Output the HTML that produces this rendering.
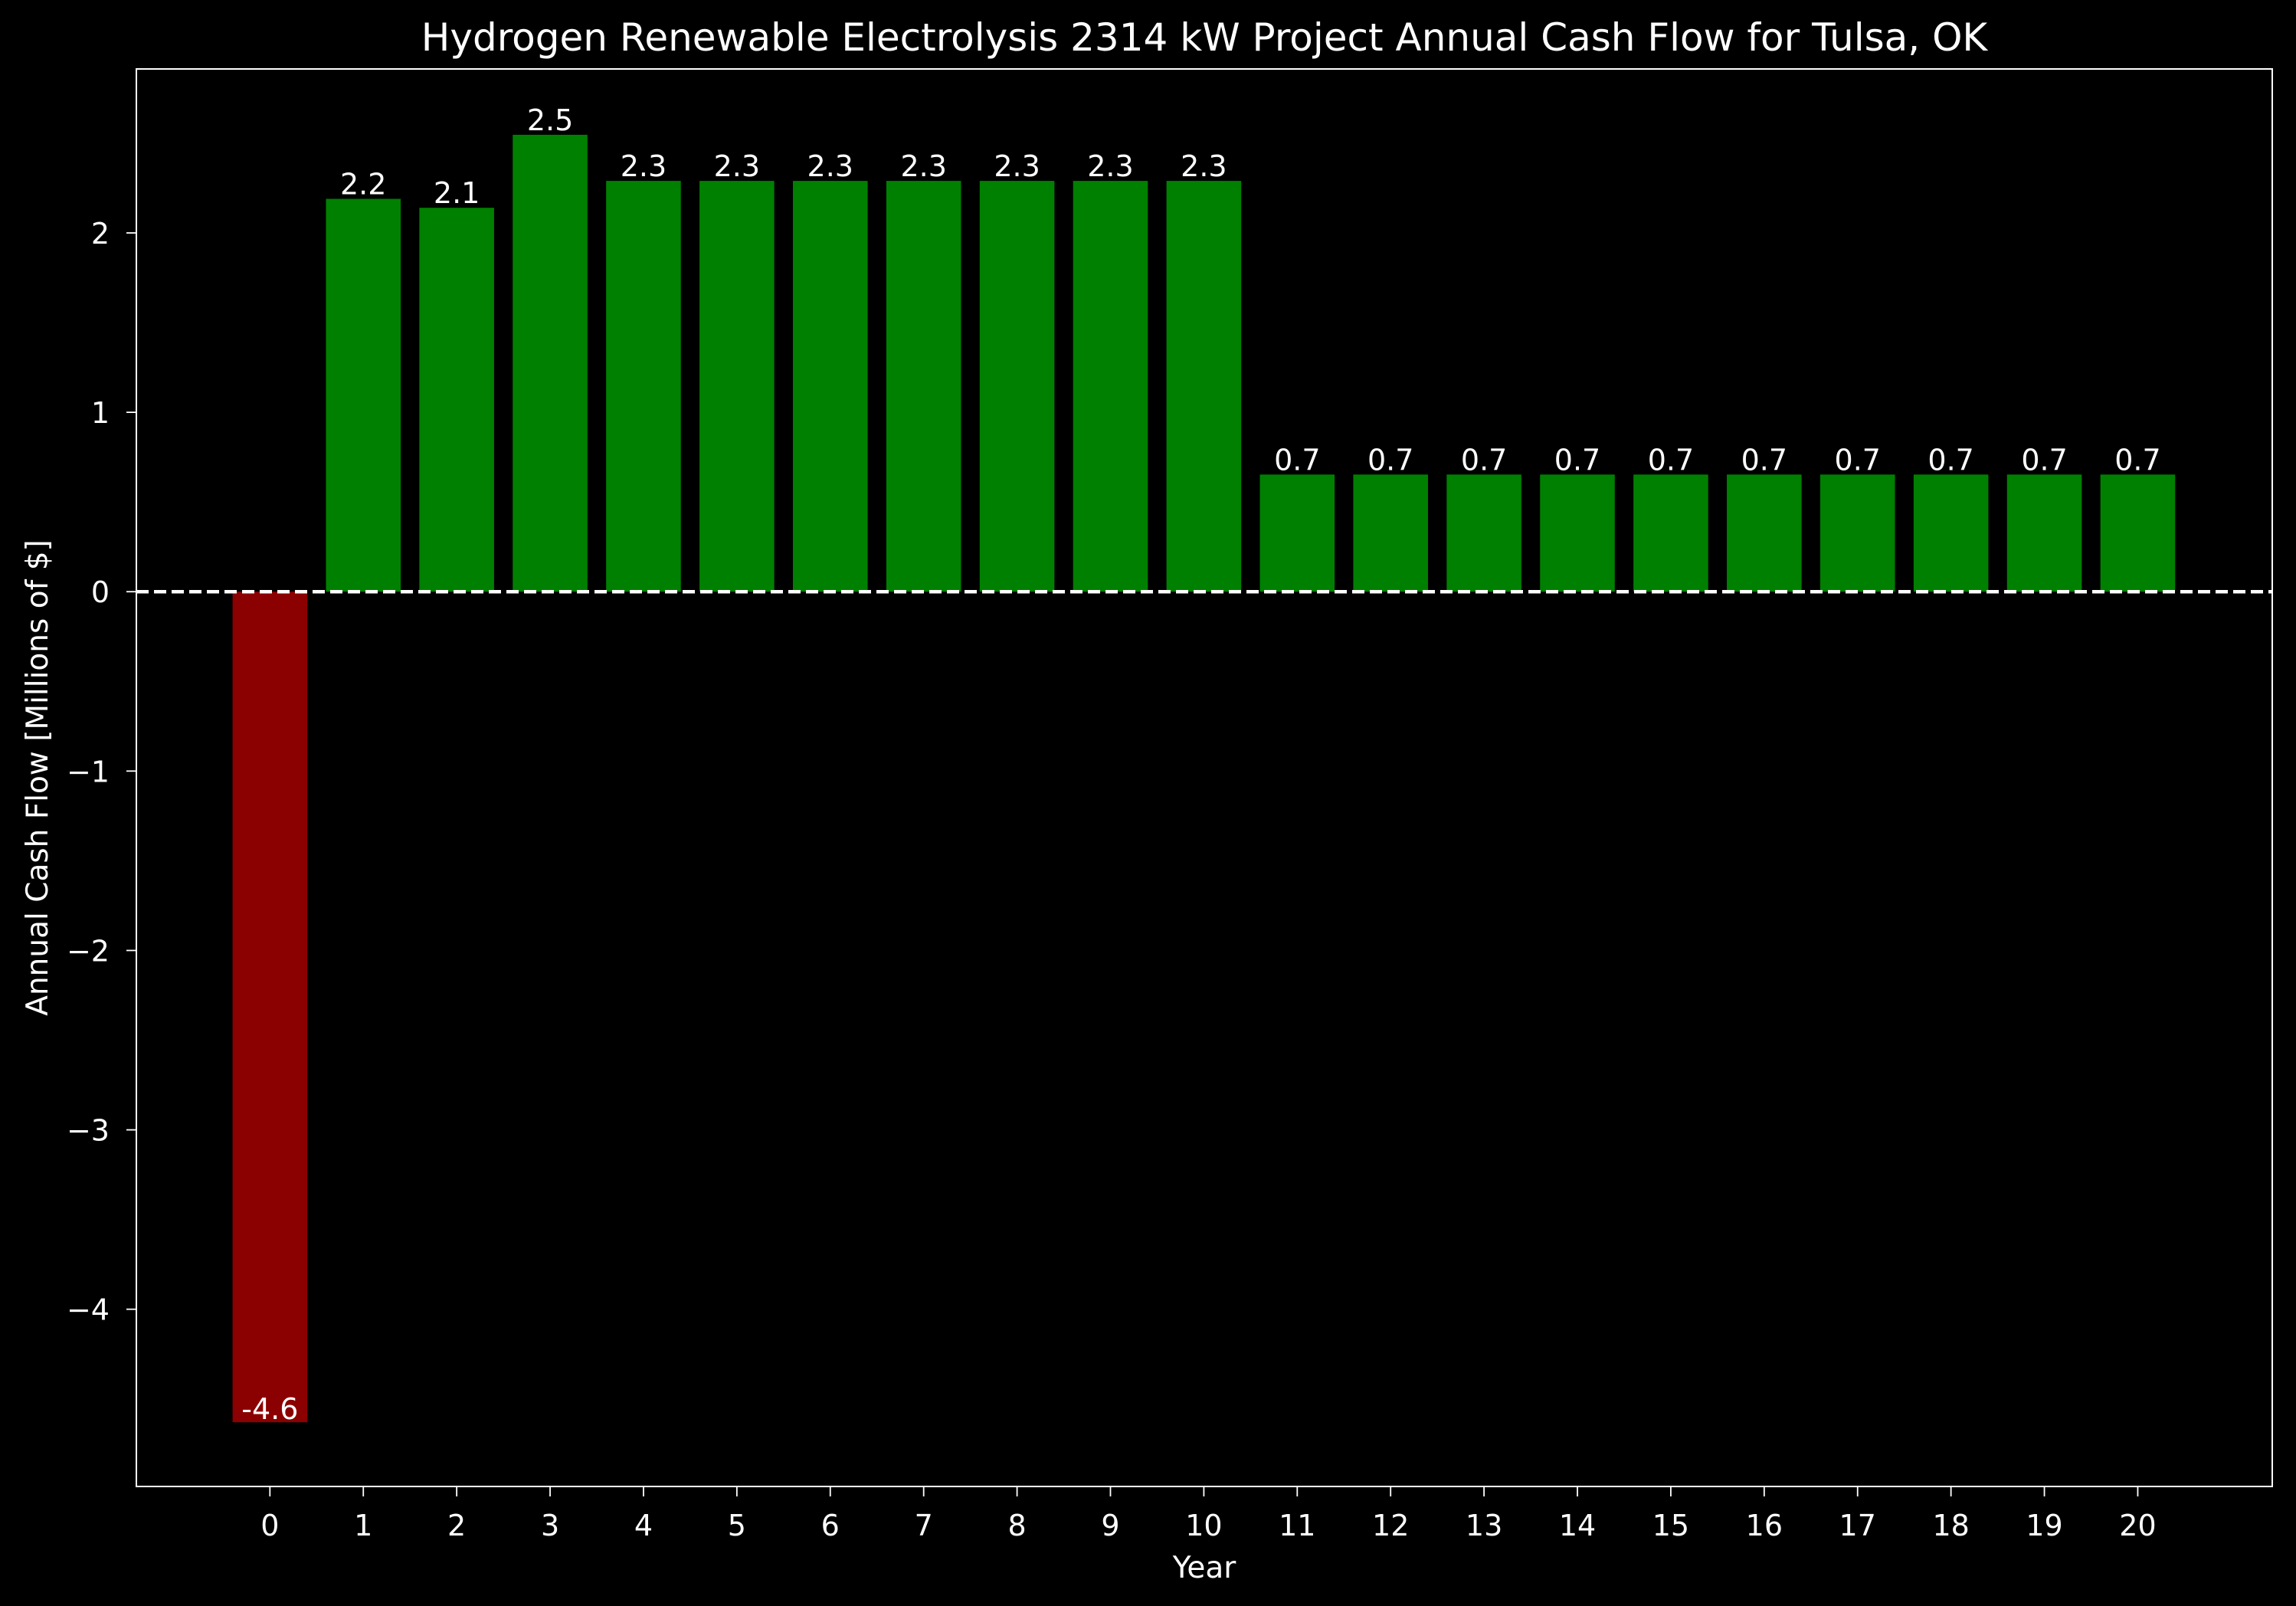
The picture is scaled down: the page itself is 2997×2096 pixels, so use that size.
<!DOCTYPE html>
<html><head><meta charset="utf-8">
<style>
html,body{margin:0;padding:0;background:#000;}
svg{display:block;}
text{font-family:"DejaVu Sans","Liberation Sans",sans-serif;fill:#fff;}
</style></head>
<body>
<svg id="chart" width="2997" height="2096" viewBox="0 0 2997 2096">
<rect x="0" y="0" width="2997" height="2096" fill="#000"/>
<text x="1572" y="66" font-size="50" text-anchor="middle">Hydrogen Renewable Electrolysis 2314 kW Project Annual Cash Flow for Tulsa, OK</text>
<text x="1572" y="2059" font-size="39" text-anchor="middle">Year</text>
<text x="0" y="0" font-size="39" text-anchor="middle" transform="translate(62,1015) rotate(-90)">Annual Cash Flow [Millions of $]</text>
<g id="bars"></g>
<g id="xticks"></g>
<g id="yticks"></g>
<g id="labels"></g>
</svg>
<script>
const years = [0,1,2,3,4,5,6,7,8,9,10,11,12,13,14,15,16,17,18,19,20];
const cashFlow = [-4.63,2.19,2.14,2.547,2.29,2.29,2.29,2.29,2.29,2.29,2.29,0.653,0.653,0.653,0.653,0.653,0.653,0.653,0.653,0.653,0.653];
const yTickValues = [-4,-3,-2,-1,0,1,2];

const NS = "http://www.w3.org/2000/svg";
const L = 178, R = 2966, T = 90, B = 1940;
const xMin = -1.43, xMax = 21.44, yMin = -4.988, yMax = 2.914;
function xs(v){ return L + (v - xMin) / (xMax - xMin) * (R - L); }
function ys(v){ return B - (v - yMin) / (yMax - yMin) * (B - T); }
function mk(tag, attrs, parent){ const e = document.createElementNS(NS, tag); for (const k in attrs) e.setAttribute(k, attrs[k]); parent.appendChild(e); return e; }

const svg = document.getElementById('chart');
const gb = document.getElementById('bars');
const gx = document.getElementById('xticks');
const gy = document.getElementById('yticks');
const gl = document.getElementById('labels');
const bw = (xs(0.8) - xs(0));

years.forEach((yr, i) => {
  const v = cashFlow[i];
  const y0 = ys(0), y1 = ys(v);
  const r = mk('rect', {x: xs(yr) - bw/2, y: Math.min(y0, y1), width: bw, height: Math.abs(y1 - y0), fill: v < 0 ? '#8b0000' : '#008000'}, gb);
  
  
  const t = mk('text', {x: xs(yr), y: v < 0 ? y1 - 4 : y1 - 6, 'font-size': 38, 'text-anchor': 'middle'}, gl);
  t.textContent = v.toFixed(1);
  
  
  const tk = mk('line', {x1: xs(yr), x2: xs(yr), y1: B, y2: B + 13, stroke: '#fff', 'stroke-width': 1.8}, gx);
  
  
  const tl = mk('text', {x: xs(yr), y: 2004, 'font-size': 38, 'text-anchor': 'middle'}, gx);
  tl.textContent = String(yr);
  
  
});

yTickValues.forEach(v => {
  const tk = mk('line', {x1: L - 13, x2: L, y1: ys(v), y2: ys(v), stroke: '#fff', 'stroke-width': 1.8}, gy);
  
  
  const tl = mk('text', {x: 143, y: ys(v) + 14, 'font-size': 38, 'text-anchor': 'end'}, gy);
  tl.textContent = v < 0 ? '\u2212' + Math.abs(v) : String(v);
  
  
});

const zl = mk('line', {x1: L, x2: R, y1: ys(0), y2: ys(0), stroke: '#fff', 'stroke-width': 4.5, 'stroke-dasharray': '16 7'}, svg);



const frame = mk('rect', {x: L, y: T, width: R - L, height: B - T, fill: 'none', stroke: '#fff', 'stroke-width': 2}, svg);


</script>
</body></html>
